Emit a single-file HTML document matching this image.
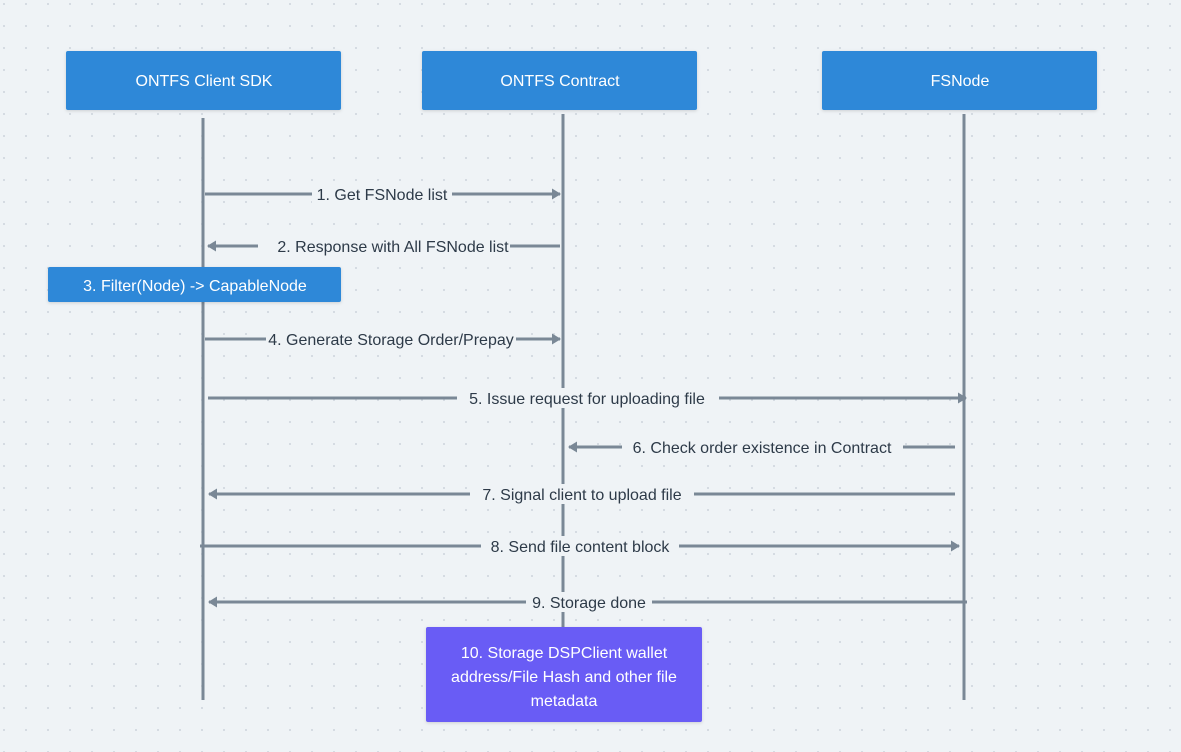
<!DOCTYPE html>
<html><head><meta charset="utf-8"><style>
html,body{margin:0;padding:0;background:#eff3f6;}
svg{display:block;font-family:"Liberation Sans",sans-serif;}
</style></head><body>
<svg width="1181" height="752" viewBox="0 0 1181 752" xmlns="http://www.w3.org/2000/svg">
<defs>
<pattern id="d" width="22" height="22" patternUnits="userSpaceOnUse" x="3" y="3"><circle cx="1" cy="1" r="1" fill="#cdd4db"/></pattern>
<marker id="a" markerWidth="12" markerHeight="12" refX="8" refY="6" orient="auto" markerUnits="userSpaceOnUse"><path d="M0,0.5 L9,6 L0,11.5 z" fill="#7a8896"/></marker>
<filter id="s" x="-5%" y="-10%" width="110%" height="130%"><feDropShadow dx="0" dy="1" stdDeviation="1.5" flood-color="#000" flood-opacity="0.15"/></filter>
</defs>
<rect width="1181" height="752" fill="#eff3f6"/>
<rect width="1181" height="752" fill="url(#d)"/>
<g stroke="#7a8896" stroke-width="3" fill="none">
<line x1="203" y1="118" x2="203" y2="700"/>
<line x1="563" y1="114" x2="563" y2="628"/>
<line x1="964" y1="114" x2="964" y2="700"/>
<line x1="205" y1="194" x2="560" y2="194" marker-end="url(#a)"/>
<line x1="560" y1="246" x2="208" y2="246" marker-end="url(#a)"/>
<line x1="205" y1="339" x2="560" y2="339" marker-end="url(#a)"/>
<line x1="208" y1="398" x2="966" y2="398" marker-end="url(#a)"/>
<line x1="955" y1="447" x2="569" y2="447" marker-end="url(#a)"/>
<line x1="955" y1="494" x2="209" y2="494" marker-end="url(#a)"/>
<line x1="200" y1="546" x2="959" y2="546" marker-end="url(#a)"/>
<line x1="967" y1="602" x2="209" y2="602" marker-end="url(#a)"/>
</g>
<g font-size="16" fill="#2d3a48" text-anchor="middle">
<rect x="312" y="184" width="140" height="20" fill="#eff3f6"/><text x="382" y="200">1. Get FSNode list</text>
<rect x="258" y="236" width="252" height="20" fill="#eff3f6"/><text x="393" y="252">2. Response with All FSNode list</text>
<rect x="266" y="329" width="250" height="20" fill="#eff3f6"/><text x="391" y="345">4. Generate Storage Order/Prepay</text>
<rect x="457" y="388" width="262" height="20" fill="#eff3f6"/><text x="587" y="404">5. Issue request for uploading file</text>
<rect x="622" y="437" width="281" height="20" fill="#eff3f6"/><text x="762" y="453">6. Check order existence in Contract</text>
<rect x="470" y="484" width="224" height="20" fill="#eff3f6"/><text x="582" y="500">7. Signal client to upload file</text>
<rect x="481" y="536" width="198" height="20" fill="#eff3f6"/><text x="580" y="552">8. Send file content block</text>
<rect x="526" y="592" width="126" height="20" fill="#eff3f6"/><text x="589" y="608">9. Storage done</text>
</g>
<g filter="url(#s)">
<rect x="66" y="51" width="275" height="59" rx="2" fill="#2e88d8"/>
<rect x="422" y="51" width="275" height="59" rx="2" fill="#2e88d8"/>
<rect x="822" y="51" width="275" height="59" rx="2" fill="#2e88d8"/>
<rect x="48" y="267" width="293" height="35" rx="2" fill="#2e88d8"/>
<rect x="426" y="627" width="276" height="95" rx="2" fill="#695cf5"/>
</g>
<g font-size="16" fill="#fff" text-anchor="middle">
<text x="204" y="86">ONTFS Client SDK</text>
<text x="560" y="86">ONTFS Contract</text>
<text x="960" y="86">FSNode</text>
<text x="195" y="291">3. Filter(Node) -&gt; CapableNode</text>
<text x="564" y="658">10. Storage DSPClient wallet</text>
<text x="564" y="682">address/File Hash and other file</text>
<text x="564" y="706">metadata</text>
</g>
</svg>
</body></html>
